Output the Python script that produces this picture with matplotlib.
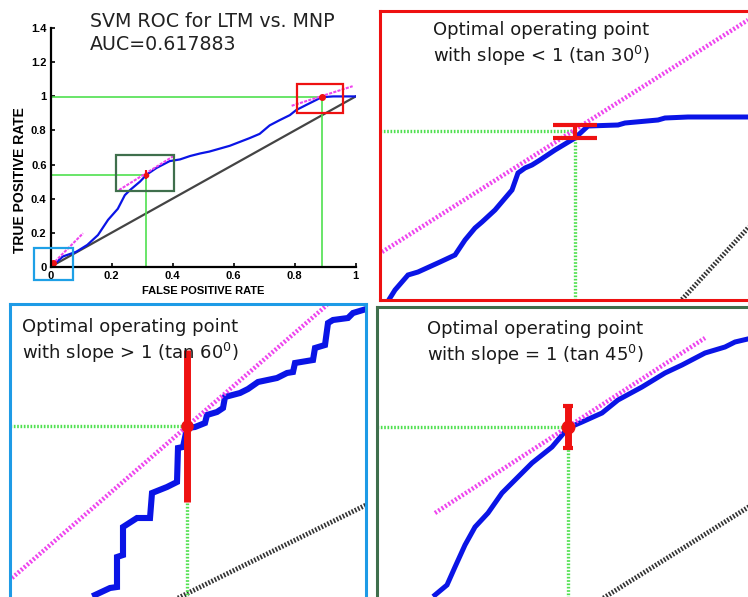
import matplotlib
matplotlib.use("Agg")
import matplotlib.pyplot as plt
from matplotlib.patches import Rectangle

# Overview ROC curve
fpr = [0, 0.009, 0.04, 0.084, 0.12, 0.155, 0.188, 0.22, 0.243, 0.26, 0.293, 0.314,
       0.347, 0.39, 0.424, 0.457, 0.49, 0.52, 0.587, 0.652, 0.685, 0.718, 0.75,
       0.784, 0.805, 0.838, 0.888, 0.926, 1.0]
tpr = [0, 0.01, 0.06, 0.088, 0.128, 0.186, 0.275, 0.34, 0.42, 0.45, 0.50, 0.54,
       0.58, 0.62, 0.63, 0.65, 0.665, 0.676, 0.71, 0.755, 0.78, 0.83, 0.86,
       0.89, 0.92, 0.95, 0.995, 1.0, 1.0]

# operating points (fpr, tpr) and tangent segments
op_fpr = [0.009, 0.314, 0.888]
op_tpr = [0.02, 0.54, 0.995]
tan_x = [[0.014, 0.106], [0.224, 0.403], [0.79, 0.99]]
tan_y = [[0.03, 0.196], [0.45, 0.65], [0.945, 1.06]]

# zoom boxes: (x0, x1, y0, y1)
box_blue = (-0.055, 0.073, -0.078, 0.108)
box_green = (0.213, 0.404, 0.445, 0.657)
box_red = (0.806, 0.959, 0.90, 1.075)

# zoomed panels, in local panel units
red_curve_x = [10, 15, 28, 38, 60, 75, 85, 95, 102, 115, 132, 138, 145, 152, 160,
               175, 195, 208, 238, 245, 278, 285, 308, 372]
red_curve_y = [2, 10, 25, 28, 38, 45, 60, 72, 78, 90, 110, 127, 132, 135, 140,
               150, 162, 174, 175, 177, 180, 182, 183, 183]
red_tan_x = [2, 368]
red_tan_y = [48, 280]
red_diag_x = [295, 380]
red_diag_y = [-7, 85]
red_op = (195, 169)

blue_curve_x = [85, 100, 107, 107, 113, 113, 127, 140, 142, 157, 167, 168, 173, 177,
                185, 195, 197, 207, 213, 215, 230, 238, 248, 267, 277, 283, 285,
                303, 305, 315, 318, 323, 338, 343, 353]
blue_curve_y = [5, 12, 13, 43, 45, 73, 82, 82, 107, 113, 118, 152, 153, 172,
                173, 177, 185, 188, 192, 203, 207, 211, 218, 222, 227, 228, 237,
                240, 252, 255, 277, 280, 282, 287, 290]
blue_tan_x = [2, 317]
blue_tan_y = [22, 295]
blue_diag_x = [164, 360]
blue_diag_y = [0, 97]
blue_op = (177, 174)

green_curve_x = [58, 70, 78, 88, 98, 111, 125, 138, 155, 175, 191, 205, 225, 241,
                 265, 288, 305, 328, 348, 358, 375]
green_curve_y = [5, 15, 33, 55, 73, 87, 107, 120, 137, 153, 172, 178, 187, 200,
                 213, 227, 235, 247, 253, 258, 262]
green_tan_x = [58, 328]
green_tan_y = [87, 262]
green_diag_x = [220, 378]
green_diag_y = [-2, 97]
green_op = (191, 173)

W, H = 748, 597
BLUE = "#0a14e6"
GREEN = "#4fe04f"
MAGENTA = "#ee44ee"
RED = "#ee1111"
FONT = "DejaVu Sans"

fig = plt.figure(figsize=(W / 100, H / 100), dpi=100)


def px_axes(left, top, right, bottom):
    return fig.add_axes([left / W, 1 - bottom / H, (right - left) / W, (bottom - top) / H])


# ---- overview ROC ----
ax = px_axes(50.7, 28.3, 355.7, 266.7)
ax.plot([0, 1], [0, 1], color="#444444", lw=1.6)
ax.plot([0, op_fpr[2], op_fpr[2]], [op_tpr[2], op_tpr[2], 0], color=GREEN, lw=1.2)
ax.plot([0, op_fpr[1], op_fpr[1]], [op_tpr[1], op_tpr[1], 0], color=GREEN, lw=1.2)
ax.plot(fpr, tpr, color=BLUE, lw=1.6)
for tx, ty in zip(tan_x, tan_y):
    ax.plot(tx, ty, color=MAGENTA, lw=1.5, ls=(0, (1.5, 0.6)))
ax.errorbar(op_fpr[1], op_tpr[1], yerr=0.025, fmt="o", color=RED, ms=3, elinewidth=1.5, capsize=0)
ax.plot([op_fpr[0], op_fpr[2]], [op_tpr[0], op_tpr[2]], "o", color=RED, ms=4, ls="none")
for (x0, x1, y0, y1), c in [(box_blue, "#1ea0e6"), (box_green, "#3f6f4c"), (box_red, RED)]:
    ax.add_patch(Rectangle((x0, y0), x1 - x0, y1 - y0, fill=False, ec=c, lw=1.6, clip_on=False, zorder=5))
ax.set_xlim(0, 1)
ax.set_ylim(0, 1.4)
ax.set_xticks([0, 0.2, 0.4, 0.6, 0.8, 1])
ax.set_xticklabels(["0", "0.2", "0.4", "0.6", "0.8", "1"])
ax.set_yticks([0, 0.2, 0.4, 0.6, 0.8, 1, 1.2, 1.4])
ax.set_yticklabels(["0", "0.2", "0.4", "0.6", "0.8", "1", "1.2", "1.4"])
for s in ["top", "right"]:
    ax.spines[s].set_visible(False)
for s in ["left", "bottom"]:
    ax.spines[s].set_linewidth(1.6)
ax.tick_params(direction="in", length=3, width=1.2, pad=3)
for lab in ax.get_xticklabels() + ax.get_yticklabels():
    lab.set_fontfamily("Liberation Sans")
    lab.set_fontweight("bold")
    lab.set_fontsize(8)
ax.set_xlabel("FALSE POSITIVE RATE", fontfamily="Liberation Sans", fontweight="bold", fontsize=8)
ax.set_ylabel("TRUE POSITIVE RATE", fontfamily="Liberation Sans", fontweight="bold", fontsize=10)
ax.xaxis.set_label_coords(0.5, -0.08)
ax.yaxis.set_label_coords(-0.1, 0.365)
ax.yaxis.label.set_va("center")
fig.text(90 / W, 1 - 12 / H, "SVM ROC for LTM vs. MNP\nAUC=0.617883", fontfamily=FONT,
         fontsize=13.7, va="top", ha="left", linespacing=1.25, color="#222222")


def zoom_panel(left, top, right, bottom, frame, cx, cy, tx, ty, dx, dy, op,
               err, text, text_xy, cap, lw_blue):
    zx = px_axes(left, top, right, bottom)
    zx.set_xlim(0, right - left)
    zx.set_ylim(0, bottom - top)
    zx.set_xticks([])
    zx.set_yticks([])
    for s in zx.spines.values():
        s.set_color(frame)
        s.set_linewidth(2.2)
    zx.plot(dx, dy, color="#333333", lw=3.5, ls=(0, (0.35, 0.35)))
    zx.plot([0, op[0]], [op[1], op[1]], color=GREEN, lw=2.4, ls=(0, (0.5, 0.5)))
    zx.plot([op[0], op[0]], [0, op[1]], color=GREEN, lw=2.4, ls=(0, (0.5, 0.5)))
    zx.plot(cx, cy, color=BLUE, lw=lw_blue, solid_joinstyle="miter")
    zx.plot(tx, ty, color=MAGENTA, lw=3.2, ls=(0, (0.45, 0.45)))
    zx.errorbar(op[0], op[1] - err[2], yerr=[[err[0]], [err[1]]], fmt="o" if err[3] else "none",
                color=RED, ms=err[3], elinewidth=err[4], capsize=cap, capthick=3)
    zx.text(text_xy[0], text_xy[1], text, transform=zx.transData, fontfamily=FONT,
            fontsize=13, va="top", ha="left", linespacing=1.25, color="#1a1a1a")
    return zx


zoom_panel(380, 10.7, 752, 300, RED, red_curve_x, red_curve_y, red_tan_x, red_tan_y,
           red_diag_x, red_diag_y, red_op, (6.7, 6.7, 0.7, 0, 3.0),
           "Optimal operating point\nwith slope < 1 (tan 30$^0$)", (53, 279), 15.5, 3.6)
zoom_panel(10, 304, 366, 600, "#1e9be6", blue_curve_x, blue_curve_y, blue_tan_x, blue_tan_y,
           blue_diag_x, blue_diag_y, blue_op, (76, 76, 0, 8, 5),
           "Optimal operating point\nwith slope > 1 (tan 60$^0$)", (12, 282), 0, 4.4)
zoom_panel(377, 306.7, 752, 600, "#3f6f4c", green_curve_x, green_curve_y, green_tan_x, green_tan_y,
           green_diag_x, green_diag_y, green_op, (21, 21, 0, 9, 5),
           "Optimal operating point\nwith slope = 1 (tan 45$^0$)", (50, 280), 3.5, 3.6)

fig.savefig("out.png", dpi=100)
